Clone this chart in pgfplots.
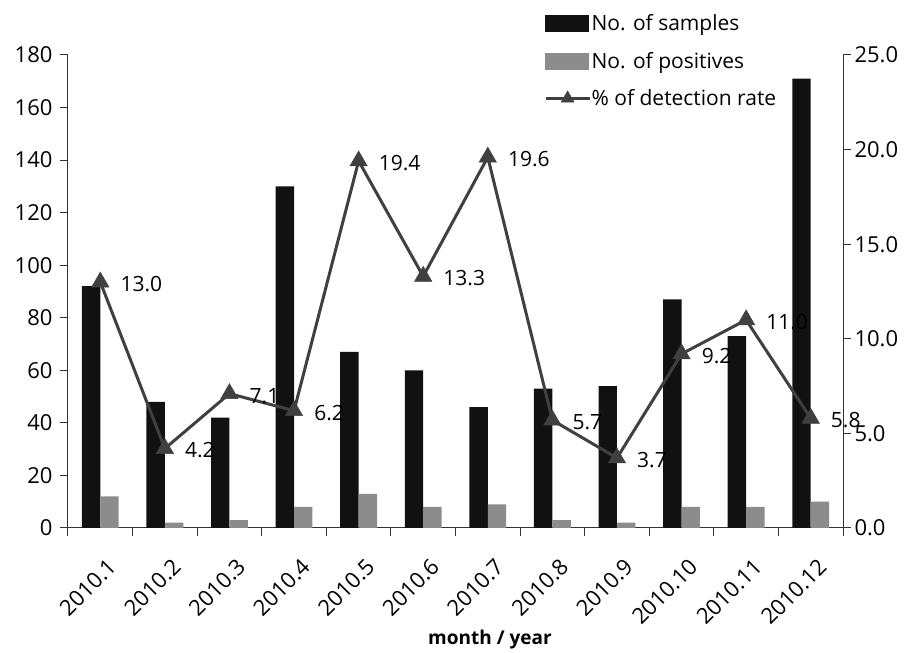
\documentclass[border=0pt]{standalone}
\usepackage{pgfplots}
\usepackage{pgfplotstable}
\pgfplotsset{compat=1.18}
\usepackage{fontspec}
\setmainfont{Open Sans}
\newcommand{\fs}{\fontsize{21}{25}\selectfont}
\newcommand{\ft}{\fontsize{22}{26}\selectfont}
\definecolor{barblack}{HTML}{111111}
\definecolor{bargray}{HTML}{8C8C8C}
\definecolor{linegray}{HTML}{404040}
\definecolor{axisgray}{HTML}{333333}

\pgfplotstableread{
idx samples positives rate
0 92 12 13.0
1 48 2 4.2
2 42 3 7.1
3 130 8 6.2
4 67 13 19.4
5 60 8 13.3
6 46 9 19.6
7 53 3 5.7
8 54 2 3.7
9 87 8 9.2
10 73 8 11.0
11 171 10 5.8
}\data

\begin{document}
\begin{tikzpicture}
\useasboundingbox (-68pt,-125pt) rectangle (843pt,528pt);
\begin{axis}[
  at={(0pt,0pt)}, anchor=south west,
  scale only axis, width=775pt, height=473pt,
  xmin=-0.5, xmax=11.5, ymin=0, ymax=180,
  axis lines*=left,
  axis line style={axisgray, line width=1pt},
  ytick={0,20,...,180},
  xtick={0,...,11},
  xticklabels={2010.1,2010.2,2010.3,2010.4,2010.5,2010.6,2010.7,2010.8,2010.9,2010.10,2010.11,2010.12},
  minor xtick={-0.5,0.5,...,11.5},
  tick align=outside,
  major tick length=8pt, minor tick length=8pt,
  every tick/.style={axisgray, line width=1pt},
  every major x tick/.append style={draw=none},
  tick label style={font=\ft},
  yticklabel style={xshift=-4pt},
  /pgf/number format/assume math mode=true,
  xticklabel style={rotate=45, anchor=north east, inner sep=2pt, xshift=-8.5pt, yshift=-17pt},
  xlabel={month / year},
  xlabel style={font=\fontsize{19}{23}\selectfont\bfseries, at={(axis description cs:0.5445,0)}, yshift=-112pt, anchor=center},
]
\addplot[ybar, bar width=0.285, bar shift=-0.1425, fill=barblack, draw=none] table[x=idx, y=samples]{\data};
\addplot[ybar, bar width=0.285, bar shift=0.1425, fill=bargray, draw=none] table[x=idx, y=positives]{\data};
\end{axis}
\begin{axis}[
  at={(0pt,0pt)}, anchor=south west,
  scale only axis, width=775pt, height=473pt,
  xmin=-0.5, xmax=11.5, ymin=0, ymax=25,
  axis x line=none, axis y line*=right,
  axis line style={axisgray, line width=1pt},
  ytick={0,5,...,25},
  tick align=outside,
  major tick length=8pt,
  every tick/.style={axisgray, line width=1pt},
  tick label style={font=\ft},
  yticklabel style={/pgf/number format/fixed, /pgf/number format/fixed zerofill, /pgf/number format/precision=1, /pgf/number format/assume math mode=true},
  clip=false,
  legend style={at={(axis description cs:0.6141,1.087)}, anchor=north west, draw=none, fill=none, font=\fs, row sep=19pt, inner sep=0pt, nodes={inner sep=0.5pt}},
  legend cell align=left,
]
\addlegendimage{legend image code/.code={\fill[barblack] (0pt,-8pt) rectangle (43pt,8pt);}}
\addlegendentry{No. of samples}
\addlegendimage{legend image code/.code={\fill[bargray] (0pt,-8pt) rectangle (43pt,8pt);}}
\addlegendentry{No. of positives}
\addplot[color=linegray, line width=3pt, mark=triangle*, mark size=10pt,
  mark options={solid, fill=linegray, draw=linegray, line width=0.5pt},
  nodes near coords={\pgfmathprintnumber[fixed, fixed zerofill, precision=1, assume math mode=true]{\pgfplotspointmeta}},
  nodes near coords style={anchor=west, xshift=20pt, yshift=-2pt, inner sep=0pt, font=\fs, text=black},
  legend image code/.code={\draw[linegray, line width=3pt, mark=triangle*, mark size=7.5pt, mark options={solid, fill=linegray, draw=linegray, line width=0.5pt}, mark repeat=2, mark phase=2] plot coordinates {(0pt,0pt) (22pt,0pt) (44pt,0pt)};}
] table[x=idx, y=rate]{\data};
\addlegendentry{\% of detection rate}
\end{axis}
\end{tikzpicture}
\end{document}
